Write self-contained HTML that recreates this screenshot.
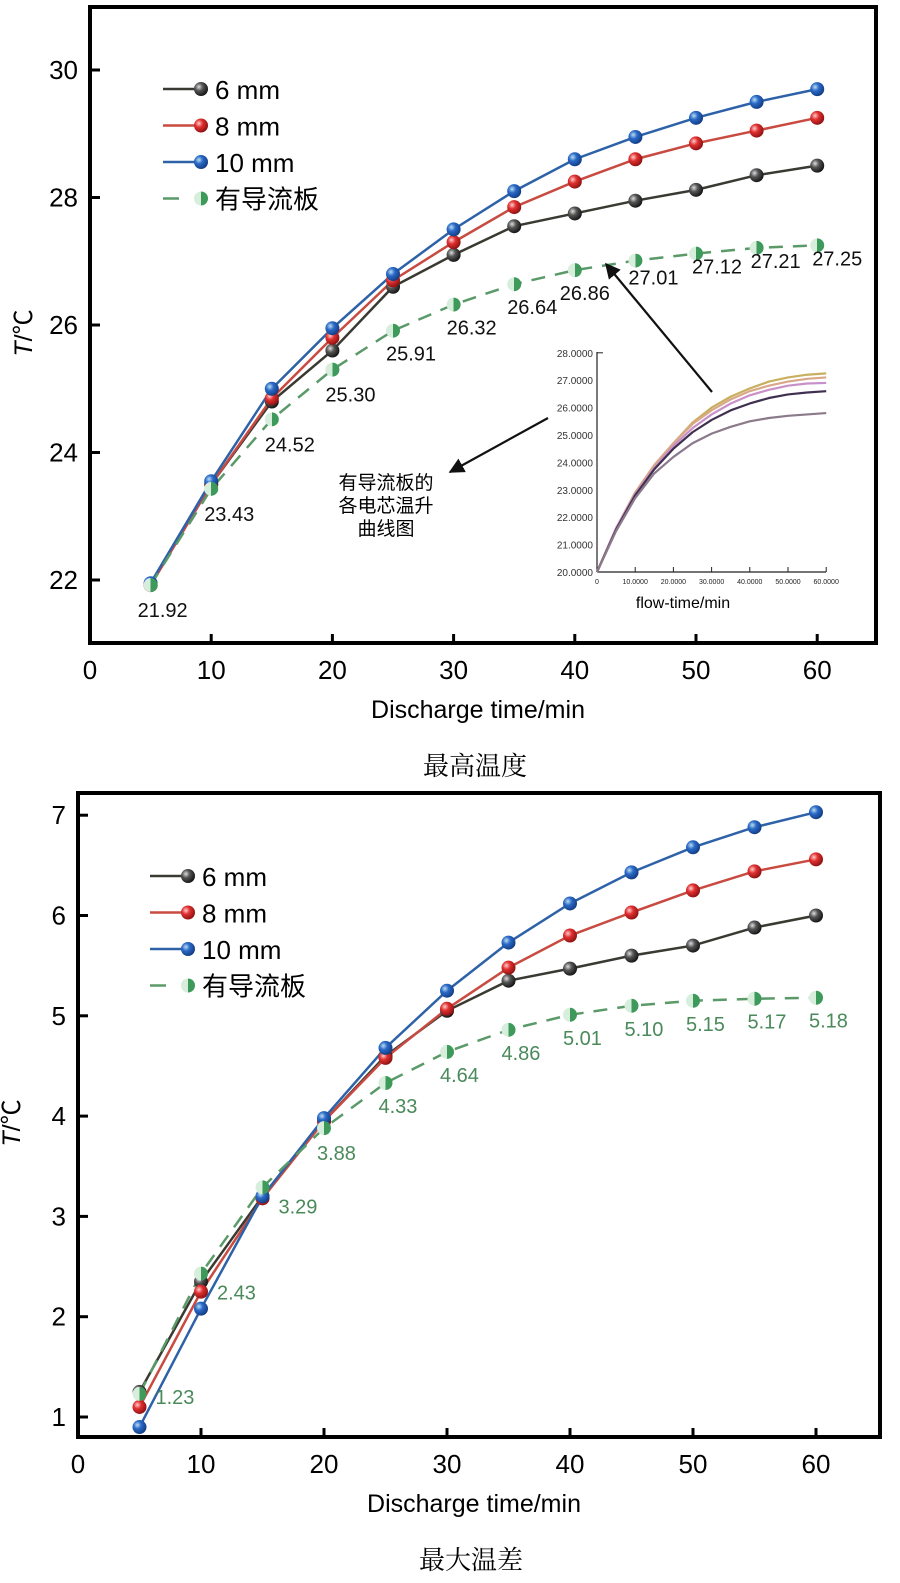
<!DOCTYPE html>
<html><head><meta charset="utf-8"><style>
body{margin:0;background:#fff}
svg text{font-family:"Liberation Sans","Noto Sans CJK SC",sans-serif}
</style></head><body>
<svg id="s" width="900" height="1578" viewBox="0 0 900 1578" xmlns="http://www.w3.org/2000/svg">
<defs>
<radialGradient id="gk" cx="35%" cy="35%" r="70%"><stop offset="0" stop-color="#ddd"/><stop offset="0.4" stop-color="#555"/><stop offset="1" stop-color="#111"/></radialGradient>
<radialGradient id="gr" cx="35%" cy="35%" r="70%"><stop offset="0" stop-color="#fcc"/><stop offset="0.4" stop-color="#e03030"/><stop offset="1" stop-color="#8a1010"/></radialGradient>
<radialGradient id="gb" cx="35%" cy="35%" r="70%"><stop offset="0" stop-color="#bde"/><stop offset="0.4" stop-color="#2a6ac8"/><stop offset="1" stop-color="#123a80"/></radialGradient>
<linearGradient id="gg" x1="0" x2="1"><stop offset="0.5" stop-color="#d8eedd"/><stop offset="0.5" stop-color="#3e9a5a"/></linearGradient>
<marker id="ah" viewBox="0 0 10 10" refX="9" refY="5" markerWidth="7" markerHeight="7" orient="auto"><path d="M0,0L10,5L0,10z" fill="#111"/></marker>
</defs>
<g id="top"></g>
<g id="bot"></g>
</svg>
<script>
const times=[5,10,15,20,25,30,35,40,45,50,55,60];
const topK=[21.92,23.5,24.8,25.6,26.6,27.1,27.55,27.75,27.95,28.12,28.35,28.5];
const topR=[21.92,23.5,24.85,25.8,26.7,27.3,27.85,28.25,28.6,28.85,29.05,29.25];
const topB=[21.95,23.55,25.0,25.95,26.8,27.5,28.1,28.6,28.95,29.25,29.5,29.7];
const topG=[21.92,23.43,24.52,25.30,25.91,26.32,26.64,26.86,27.01,27.12,27.21,27.25];
const botK=[1.25,2.35,3.2,3.95,4.6,5.05,5.35,5.47,5.6,5.7,5.88,6.0];
const botR=[1.1,2.25,3.18,3.95,4.58,5.07,5.48,5.8,6.03,6.25,6.44,6.56];
const botB=[0.9,2.08,3.2,3.98,4.68,5.25,5.73,6.12,6.43,6.68,6.88,7.03];
const botG=[1.23,2.43,3.29,3.88,4.33,4.64,4.86,5.01,5.10,5.15,5.17,5.18];
const xTicks=[0,10,20,30,40,50,60];
const topYTicks=[22,24,26,28,30];
const botYTicks=[1,2,3,4,5,6,7];
const insetT=[0,5,10,15,20,25,30,35,40,45,50,55,60];
const insetC1=[20,21.6,22.9,23.9,24.7,25.4,25.9,26.3,26.6,26.8,26.95,27.05,27.1];
const insetC2=[20,21.6,22.9,23.9,24.7,25.45,26.0,26.4,26.7,26.95,27.1,27.2,27.25];
const insetC3=[20,21.6,22.85,23.8,24.6,25.25,25.75,26.15,26.45,26.65,26.8,26.88,26.9];
const insetC4=[20,21.55,22.8,23.75,24.5,25.1,25.55,25.9,26.15,26.35,26.48,26.55,26.6];
const insetC5=[20,21.5,22.7,23.6,24.2,24.7,25.05,25.3,25.5,25.62,25.7,25.75,25.8];
const insetYTicks=[20,21,22,23,24,25,26,27,28];
const insetXTicks=[0,10,20,30,40,50,60];
const NS='http://www.w3.org/2000/svg';
function mk(p,tag,a,txt){const e=document.createElementNS(NS,tag);for(const k in a)e.setAttribute(k,a[k]);if(txt!==undefined)e.textContent=txt;p.appendChild(e);return e;}
function chart(g,o){
 const X=t=>o.x0+t*o.sx, Y=v=>o.yb-(v-o.ymin)*o.sy;
 const fr=mk(g,'rect',{x:o.L,y:o.T,width:o.R-o.L,height:o.B-o.T,fill:'none',stroke:'#000','stroke-width':4});
 
 
 xTicks.forEach(t=>{const l=mk(g,'line',{x1:X(t),x2:X(t),y1:o.B,y2:o.B-9,stroke:'#000','stroke-width':3});
  
  
  const tx=mk(g,'text',{x:X(t),y:o.B+36,'font-size':26,'text-anchor':'middle'},t);
  
  });
 o.yt.forEach(v=>{const l=mk(g,'line',{x1:o.L,x2:o.L+10,y1:Y(v),y2:Y(v),stroke:'#000','stroke-width':3});
  
  
  const tx=mk(g,'text',{x:o.L-12,y:Y(v)+9,'font-size':26,'text-anchor':'end'},v);
  
  });
 const xt=mk(g,'text',{x:(o.L+o.R)/2-5,y:o.B+75,'font-size':25,'text-anchor':'middle'},'Discharge time/min');
 
 
 const yt=mk(g,'text',{transform:`translate(${o.L-58},${(o.T+o.B)/2+8}) rotate(-90)`,'font-size':25,'text-anchor':'middle'});
 
 
 mk(yt,'tspan',{'font-style':'italic'},'T');mk(yt,'tspan',{},'/℃');
 const cap=mk(g,'text',{x:(o.L+o.R)/2-8,y:o.B+132,'font-size':26,'text-anchor':'middle',style:'font-family:"Noto Serif CJK SC",serif'},o.cap);
 
 
 const ser=[[o.k,'#3a3a33','url(#gk)','6mm'],[o.r,'#c84a40','url(#gr)','8mm'],[o.b,'#2e62a8','url(#gb)','10mm']];
 ser.forEach(s=>{const pl=mk(g,'polyline',{points:times.map((t,i)=>X(t)+','+Y(s[0][i])).join(' '),fill:'none',stroke:s[1],'stroke-width':2.5});
  
  });
 const gl=mk(g,'polyline',{points:times.map((t,i)=>X(t)+','+Y(o.g[i])).join(' '),fill:'none',stroke:'#5a9a68','stroke-width':2.5,'stroke-dasharray':'14,10'});
 
 
 ser.forEach(s=>times.forEach((t,i)=>{const c=mk(g,'circle',{cx:X(t),cy:Y(s[0][i]),r:7,fill:s[2]});
  
  }));
 times.forEach((t,i)=>{const c=mk(g,'circle',{cx:X(t),cy:Y(o.g[i]),r:7,fill:'url(#gg)'});
  
  
  const d=o.lab[i];const tx=mk(g,'text',{x:X(t)+d[0],y:Y(o.g[i])+d[1],'font-size':o.lfs,fill:o.lc},o.g[i].toFixed(2));
  
  });
 const lg=mk(g,'g',{});
 
 
 const names=['6 mm','8 mm','10 mm','有导流板'];const cols=['#3a3a33','#c84a40','#2e62a8','#5a9a68'];const fills=['url(#gk)','url(#gr)','url(#gb)','url(#gg)'];
 names.forEach((n,i)=>{const y=o.lgy+i*36.5;
  const e=mk(lg,'g',{});
  
  
  if(i<3)mk(e,'line',{x1:o.lgx,x2:o.lgx+40,y1:y,y2:y,stroke:cols[i],'stroke-width':2.5});else mk(e,'line',{x1:o.lgx,x2:o.lgx+16,y1:y,y2:y,stroke:cols[i],'stroke-width':2.5});
  mk(e,'circle',{cx:o.lgx+38,cy:y,r:7,fill:fills[i]});
  mk(e,'text',{x:o.lgx+52,y:y+10,'font-size':26},n);});
}
chart(document.getElementById('top'),{L:90,R:876,T:7,B:643,x0:90,sx:12.12,yb:580,ymin:22,sy:63.75,yt:topYTicks,k:topK,r:topR,b:topB,g:topG,cap:'最高温度',lgx:163,lgy:89,lfs:20,lc:'#111',
 lab:[[-13,32],[-7,32],[-7,32],[-7,32],[-7,30],[-7,30],[-7,30],[-15,30],[-7,24],[-4,20],[-6,20],[-5,20]]});
chart(document.getElementById('bot'),{L:78,R:880,T:793,B:1437,x0:78,sx:12.3,yb:1417,ymin:1,sy:100.3,yt:botYTicks,k:botK,r:botR,b:botB,g:botG,cap:'最大温差',lgx:150,lgy:876,lfs:20,lc:'#4a8a5a',
 lab:[[16,10],[16,26],[16,26],[-7,32],[-7,30],[-7,30],[-7,30],[-7,30],[-7,30],[-7,30],[-7,30],[-7,30]]});
// inset
const ins=mk(document.getElementById('top'),'g',{});


const IX=t=>597+t*3.82, IY=v=>572-(v-20)*27.4;
mk(ins,'line',{x1:597,x2:597,y1:352,y2:572,stroke:'#222','stroke-width':1.2});
mk(ins,'line',{x1:597,x2:826,y1:572,y2:572,stroke:'#222','stroke-width':1.2});
insetYTicks.forEach(v=>{const t=mk(ins,'text',{x:593,y:IY(v)+4,'font-size':10,'text-anchor':'end',fill:'#333'},v.toFixed(4));
 
 });
mk(ins,'line',{x1:597,x2:603,y1:IY(28),y2:IY(28),stroke:'#222'});
insetXTicks.forEach(v=>{mk(ins,'line',{x1:IX(v),x2:IX(v),y1:572,y2:567,stroke:'#222'});
 const t=mk(ins,'text',{x:IX(v),y:584,'font-size':7,'text-anchor':'middle',fill:'#222'},v===0?'0':v.toFixed(4));
 
 });
const it=mk(ins,'text',{x:683,y:608,'font-size':16,'text-anchor':'middle'},'flow-time/min');


[[insetC2,'#c8b060'],[insetC1,'#d8a888'],[insetC3,'#c890c8'],[insetC4,'#403050'],[insetC5,'#8a7a8a']].forEach(c=>{
 const p=mk(ins,'polyline',{points:insetT.map((t,i)=>IX(t)+','+IY(c[0][i])).join(' '),fill:'none',stroke:c[1],'stroke-width':2.2,'stroke-linejoin':'round'});
 
 });
const a1=mk(ins,'line',{x1:712,y1:392,x2:606,y2:264,stroke:'#111','stroke-width':2.2,'marker-end':'url(#ah)'});


const a2=mk(ins,'line',{x1:548,y1:418,x2:450,y2:472,stroke:'#111','stroke-width':2.2,'marker-end':'url(#ah)'});


['有导流板的','各电芯温升','曲线图'].forEach((s,i)=>{const t=mk(ins,'text',{x:386,y:489+i*23,'font-size':19,'text-anchor':'middle'},s);
 
 });
</script>
</body></html>
